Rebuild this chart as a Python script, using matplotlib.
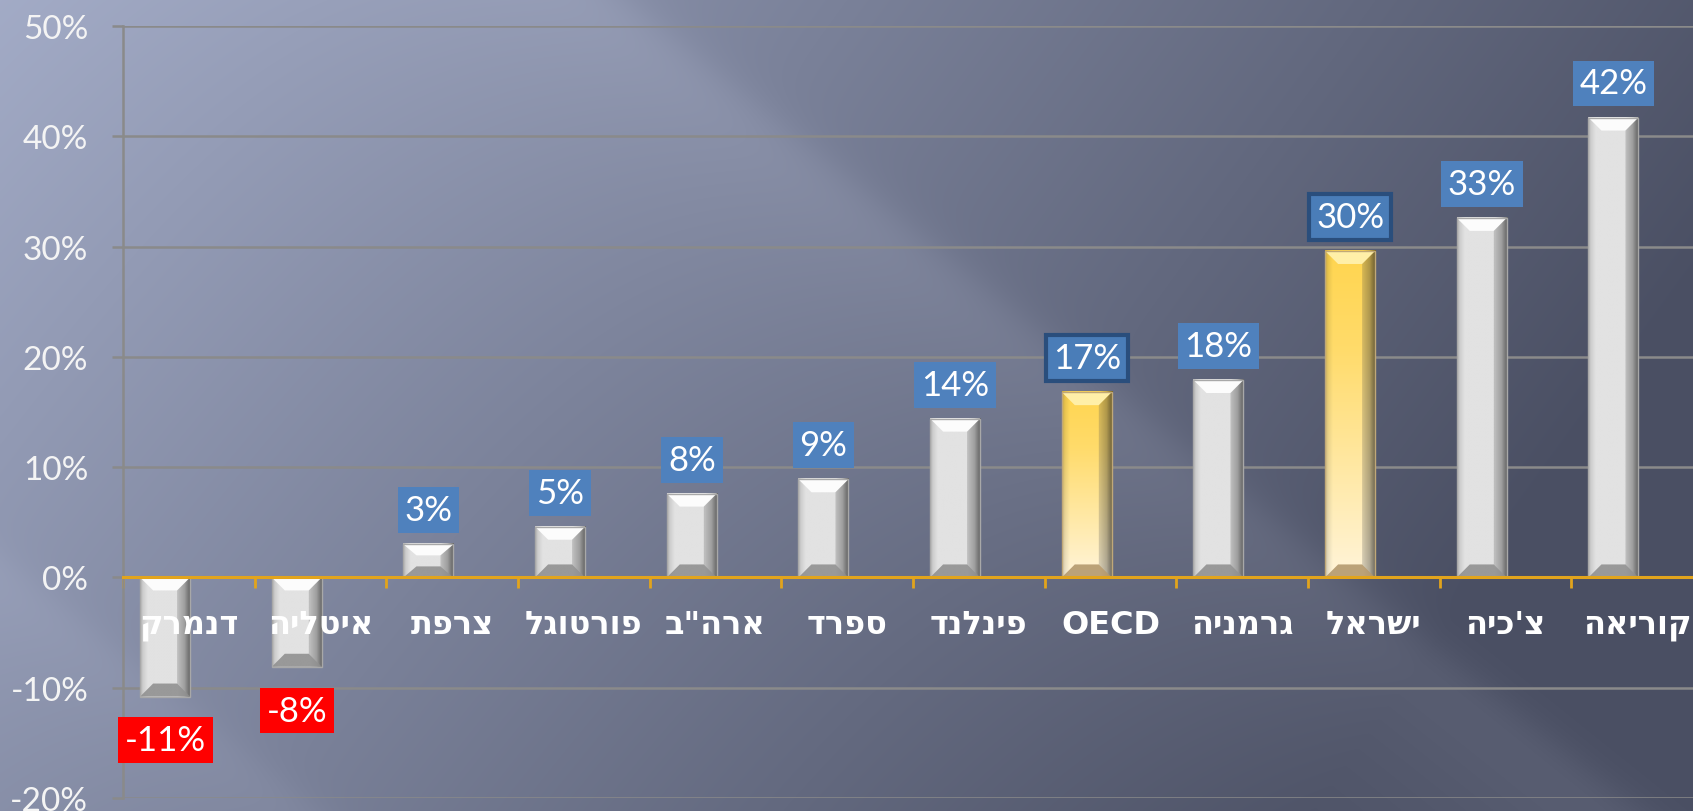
import numpy as np
import matplotlib.pyplot as plt
from matplotlib.colors import to_rgb
from matplotlib.patches import Polygon

# data
countries = ['דנמרק', 'איטליה', 'צרפת', 'פורטוגל', 'ארה"ב', 'ספרד', 'פינלנד',
             'OECD', 'גרמניה', 'ישראל', "צ'כיה", 'קוריאה']
values = [-10.8, -8.1, 3.0, 4.6, 7.6, 8.9, 14.4, 16.8, 17.9, 29.6, 32.6, 41.7]
highlight = ['OECD', 'ישראל']
y_ticks = [-20, -10, 0, 10, 20, 30, 40, 50]


def visual(s):
    # matplotlib has no bidi support: flip Hebrew strings by hand
    if any('\u0590' <= ch <= '\u05ff' for ch in s):
        return s[::-1]
    return s


W, H = 1693, 812
fig = plt.figure(figsize=(W / 100, H / 100), dpi=100)

# ---- background: slate gradient with a soft diagonal light streak ----
yy, xx = np.mgrid[0:H:2, 0:W:2].astype(float)
t = np.clip(0.10 + 0.80 * xx / W + 0.28 * yy / H, 0, 1)
light = np.array(to_rgb('#AAB3CF'))
dark = np.array(to_rgb('#4A4F63'))
img = light * (1 - t[..., None]) + dark * t[..., None]
d = (0.8 * (xx - 620) - yy) / np.hypot(0.8, 1)
band = 0.07 / (1 + np.exp(d / 12)) * np.exp(np.minimum(d, 0) / 180)
d2 = (0.8 * (xx + 700) - yy) / np.hypot(0.8, 1)
band += 0.04 / (1 + np.exp(d2 / 10)) * np.exp(np.minimum(d2, 0) / 120)
img = np.clip(img + band[..., None], 0, 1)
bg = fig.add_axes([0, 0, 1, 1], zorder=-10)
bg.imshow(img, extent=[0, 1, 0, 1], aspect='auto', origin='upper', interpolation='bilinear')
bg.axis('off')

# ---- main axes (runs a little past the right edge, as in the slide) ----
ax = fig.add_axes([123 / W, 13 / H, 1580 / W, 772 / H])
ax.patch.set_alpha(0)
ax.set_xlim(-0.5, len(countries) - 0.5)
ax.set_ylim(-20, 50)

px_x = 1580 / len(countries)   # pixels per category
px_y = 772 / 70                # pixels per percent
bw = 0.38
shift = -0.18
bev = 13


def bevel_bar(xc, val, gold):
    x0, x1 = xc - bw / 2, xc + bw / 2
    y0, y1 = min(0, val), max(0, val)
    hx = np.linspace(0, 1, 60)
    shade = np.interp(hx, [0, 0.06, 0.15, 0.75, 0.88, 1], [0.8, 0.92, 1.0, 1.0, 0.82, 0.45])
    vy = np.linspace(0, 1, 80)
    if gold:
        s = np.interp(vy, [0, 0.3, 1], [0, 0.2, 1])
        top, bot = np.array(to_rgb('#FFD54F')), np.array(to_rgb('#FFF4D8'))
        base = top * (1 - s[:, None]) + bot * s[:, None]
    else:
        base = np.tile(np.array(to_rgb('#E2E2E2')), (len(vy), 1))
    grad = np.clip(base[:, None, :] * shade[None, :, None], 0, 1)
    ax.imshow(grad, extent=[x0, x1, y0, y1], aspect='auto', origin='upper',
              interpolation='bilinear', zorder=2)
    dx, dy = bev / px_x, bev / px_y
    dy = min(dy, (y1 - y0) / 3)
    ctop = '#FFEFA8' if gold else '#FCFCFC'
    cbot = '#B09468' if gold else '#8C8C8C'
    ax.add_patch(Polygon([(x0, y1), (x1, y1), (x1 - dx, y1 - dy), (x0 + dx, y1 - dy)],
                         closed=True, fc=ctop, ec='none', zorder=3))
    ax.add_patch(Polygon([(x0, y0), (x1, y0), (x1 - dx, y0 + dy), (x0 + dx, y0 + dy)],
                         closed=True, fc=cbot, ec='none', alpha=0.85, zorder=3))
    ax.add_patch(Polygon([(x1, y1), (x1, y0), (x1 - dx, y0 + dy), (x1 - dx, y1 - dy)],
                         closed=True, fc='#505050', ec='none', alpha=0.25, zorder=3))
    ax.add_patch(Polygon([(x0, y0), (x0, y1), (x1, y1), (x1, y0)], closed=True,
                         fc='none', ec='#A8A8A8' if not gold else '#C0A878', lw=1, zorder=3))


for i, (c, v) in enumerate(zip(countries, values)):
    bevel_bar(i + shift, v, c in highlight)

# value labels
for i, (c, v) in enumerate(zip(countries, values)):
    txt = f'{v:.0f}%'
    if v >= 0:
        if c in highlight:
            box = dict(boxstyle='square,pad=0.2', fc='#4A7DB8', ec='#2A4E7C', lw=3)
        else:
            box = dict(boxstyle='square,pad=0.2', fc='#4F81BD', ec='none')
        ax.annotate(txt, (i + shift, v), xytext=(0, 13), textcoords='offset points',
                    ha='center', va='bottom', color='white', fontsize=25,
                    family='Lato', bbox=box, zorder=6)
    else:
        box = dict(boxstyle='square,pad=0.2', fc='#FF0000', ec='none')
        ax.annotate(txt, (i + shift, v), xytext=(0, -20), textcoords='offset points',
                    ha='center', va='top', color='white', fontsize=25,
                    family='Lato', bbox=box, zorder=6)

# category labels
for i, c in enumerate(countries):
    ax.annotate(visual(c), (i, 0), xytext=(0, -34), textcoords='offset points',
                ha='center', va='center', color='white', fontsize=23,
                fontweight='bold', family='DejaVu Sans', zorder=7)

# axes styling
ax.set_yticks(y_ticks)
ax.set_yticklabels([f'{v}%' for v in y_ticks], family='Lato', fontsize=24, color='#F4F4F4')
ax.set_xticks(np.arange(-0.5, len(countries), 1))
ax.set_xticklabels([])
ax.yaxis.grid(True, color='#8A8A8A', lw=1.8)
ax.set_axisbelow(True)
ax.tick_params(axis='y', length=8, width=1.8, color='#8A8A8A', pad=17)
ax.tick_params(axis='x', length=8, width=2, color='#E2A41C', direction='out')
for s in ['top', 'right']:
    ax.spines[s].set_visible(False)
ax.spines['left'].set_color('#8A8A8A')
ax.spines['left'].set_linewidth(1.8)
ax.spines['bottom'].set_position(('data', 0))
ax.spines['bottom'].set_color('#E2A41C')
ax.spines['bottom'].set_linewidth(2.2)
ax.spines['bottom'].set_zorder(4)

fig.savefig('out.png', dpi=100)
